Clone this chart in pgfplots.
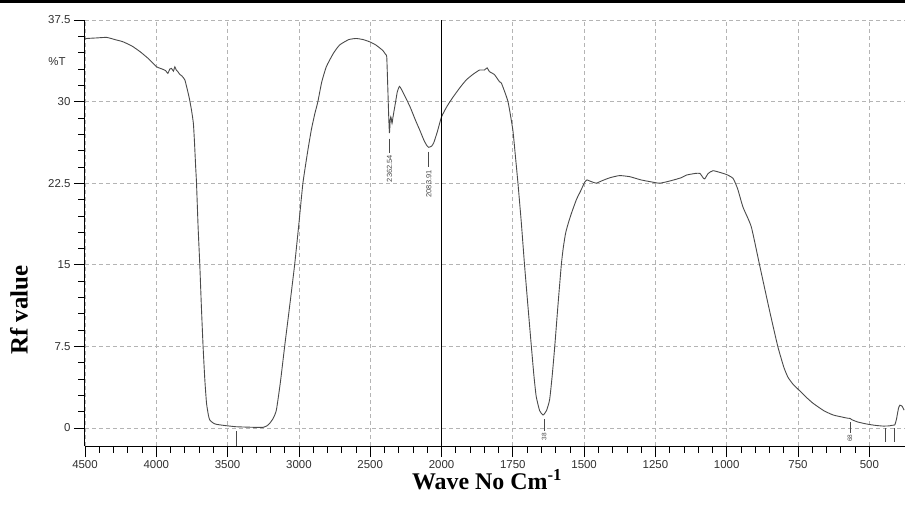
\documentclass[border=0pt]{standalone}
\usepackage{fontspec}
\setmainfont{Liberation Serif}
\newfontfamily\arialfont{Liberation Sans}
\usepackage{pgfplots}
\pgfplotsset{compat=1.18}
\definecolor{curve}{HTML}{4A4A4A}
\definecolor{gridc}{HTML}{B4B4B4}
\definecolor{ticktext}{HTML}{303030}

\begin{document}
\begin{tikzpicture}
\useasboundingbox (-85bp,-62bp) rectangle (820bp,446bp);
\begin{axis}[
  at={(0,0)}, anchor=south west,
  scale only axis, width=820bp, height=426bp,
  % IR scale: 2x expansion below 2000 cm^-1
  x coord trafo/.code={\pgfmathparse{4500-#1+max(0,2000-#1)}},
  xmin=4500, xmax=375, ymin=-1.65, ymax=37.5,
  xtick={4500,4000,3500,3000,2500,2000,1750,1500,1250,1000,750,500},
  xticklabels={4500,4000,3500,3000,2500,2000,1750,1500,1250,1000,750,500},
  ytick={0,7.5,15,22.5,30,37.5},
  yticklabels={0,7.5,15,22.5,30,37.5},
  minor tick num=4,
  tick align=outside,
  major tick length=11bp, minor tick length=6.5bp,
  grid=major,
  major grid style={gridc, dash pattern=on 4bp off 3bp, line width=0.8bp},
  separate axis lines,
  axis x line*=bottom, axis y line*=left,
  axis line style={-, black, line width=1bp},
  tick style={black, line width=0.7bp},
  tick label style={font=\arialfont\fontsize{11.5}{13}\selectfont, text=ticktext},
  clip=false,
]
\addplot[curve, line width=0.9bp, smooth, tension=0.3] coordinates {
(4500,35.75) (4488,35.8) (4420,35.85) (4348,35.9) (4290,35.7) (4234,35.5)
(4170,35.1) (4115,34.6) (4060,34.0) (3998,33.2) (3960,33.0) (3935,32.85)
(3919,32.6) (3905,33.0) (3893,33.05) (3880,32.8) (3870,33.2) (3860,32.9)
(3849,32.75) (3835,32.5) (3820,32.35) (3800,32.0) (3788,31.4) (3770,30.4)
(3753,29.2) (3740,28.0) (3732,26.2) (3724,24.0) (3718,22.5) (3707,18.5) (3695,15.0)
(3684,11.2) (3672,7.5) (3660,4.5) (3648,2.3) (3635,1.2) (3625,0.74)
(3600,0.45) (3578,0.34) (3530,0.25) (3485,0.18) (3440,0.12) (3400,0.1)
(3350,0.08) (3300,0.06) (3252,0.06) (3225,0.2) (3205,0.43) (3180,0.9)
(3158,1.65) (3130,4.2) (3100,7.5) (3065,11.2) (3030,15.0) (3000,18.8)
(2972,22.5) (2940,25.3) (2913,27.4) (2890,28.8) (2867,30.0) (2840,31.8)
(2808,33.2) (2760,34.4) (2715,35.2) (2650,35.7) (2598,35.8) (2550,35.7)
(2505,35.5) (2460,35.2) (2412,34.7) (2390,34.3) (2384,34.1) (2377,31.4)
(2370,28.5) (2365,27.1) (2360,28.3) (2356,28.6) (2353,28.5) (2347,28.0)
(2340,28.6) (2323,29.9) (2310,30.9) (2295,31.4) (2280,31.1) (2253,30.4)
(2220,29.5) (2183,28.3) (2150,27.3) (2125,26.5) (2105,26.0) (2090,25.8)
(2070,25.9) (2055,26.2) (2030,27.2) (2000,28.6) (1980,29.6) (1960,30.4)
(1935,31.3) (1913,32.0) (1890,32.5) (1867,32.9) (1850,32.9) (1840,33.1)
(1832,32.75) (1815,32.5) (1796,31.8) (1790,31.7) (1767,30.0) (1750,27.4)
(1741,25.0) (1732,22.5) (1720,18.8) (1709,15.0) (1697,11.2) (1685,7.5)
(1676,4.8) (1668,2.9) (1656,1.6) (1644,1.2) (1632,1.6) (1621,2.6)
(1612,4.8) (1603,7.5) (1592,11.2) (1580,15.0) (1573,16.6) (1565,17.9)
(1557,18.7) (1545,19.7) (1527,21.0) (1512,21.8) (1498,22.6) (1490,22.8) (1480,22.7)
(1470,22.6) (1457,22.5) (1440,22.7) (1410,23.0) (1376,23.2) (1340,23.1)
(1300,22.8) (1260,22.6) (1235,22.5) (1200,22.7) (1160,23.0) (1141,23.25)
(1110,23.4) (1094,23.4) (1083,23.0) (1077,22.9) (1065,23.4) (1048,23.65)
(1025,23.5) (1001,23.3) (978,22.95) (962,22.0) (943,20.3) (914,18.5)
(885,15.0) (850,10.8) (821,7.5) (800,5.6) (786,4.7) (770,4.1)
(753,3.65) (720,2.8) (697,2.27) (660,1.6) (627,1.2) (590,0.98)
(575,0.9) (568,0.89) (560,0.75) (540,0.55) (509,0.37) (480,0.25)
(451,0.18) (430,0.2) (420,0.25) (411,0.28) (405,0.8) (398,1.8)
(393,2.1) (385,2.0) (378,1.65)
};
% solid marker at 2000
\draw[black, line width=1bp] (axis cs:2000,-1.65) -- (axis cs:2000,37.5);
% peak labels
\draw[curve, line width=0.8bp] (axis cs:2365,26.6) -- (axis cs:2365,25.3);
\node[rotate=90, anchor=east, inner sep=0pt, text=curve,
  font=\arialfont\fontsize{7.5}{8}\selectfont] at (axis cs:2365,25.1) {2362.54};
\draw[curve, line width=0.8bp] (axis cs:2090,25.4) -- (axis cs:2090,24.0);
\node[rotate=90, anchor=east, inner sep=0pt, text=curve,
  font=\arialfont\fontsize{7.5}{8}\selectfont] at (axis cs:2090,23.7) {2083.91};
\draw[curve, line width=0.8bp] (axis cs:1640,0.8) -- (axis cs:1640,-0.3);
\node[rotate=90, anchor=east, inner sep=0pt, text=curve,
  font=\arialfont\fontsize{6.5}{7}\selectfont] at (axis cs:1640,-0.45) {38};
\draw[curve, line width=0.8bp] (axis cs:568,0.55) -- (axis cs:568,-0.5);
\node[rotate=90, anchor=east, inner sep=0pt, text=curve,
  font=\arialfont\fontsize{6.5}{7}\selectfont] at (axis cs:568,-0.6) {68};
\draw[curve, line width=0.8bp] (axis cs:3440,-0.3) -- (axis cs:3440,-1.65);
\draw[curve, line width=0.8bp] (axis cs:445,0) -- (axis cs:445,-1.3);
\draw[curve, line width=0.8bp] (axis cs:413,0) -- (axis cs:413,-1.3);
\end{axis}
\draw[black, line width=2.5bp] (-85bp,444.7bp) -- (820bp,444.7bp);
\node[font=\arialfont\fontsize{11.5}{13}\selectfont, text=ticktext] at (-28bp,384bp) {\%T};
\node[rotate=90, font=\bfseries\fontsize{25}{29}\selectfont] at (-66bp,136bp) {Rf value};
\node[font=\bfseries\fontsize{24}{28}\selectfont] at (402bp,-34bp) {Wave No Cm\textsuperscript{-1}};
\end{tikzpicture}
\end{document}
